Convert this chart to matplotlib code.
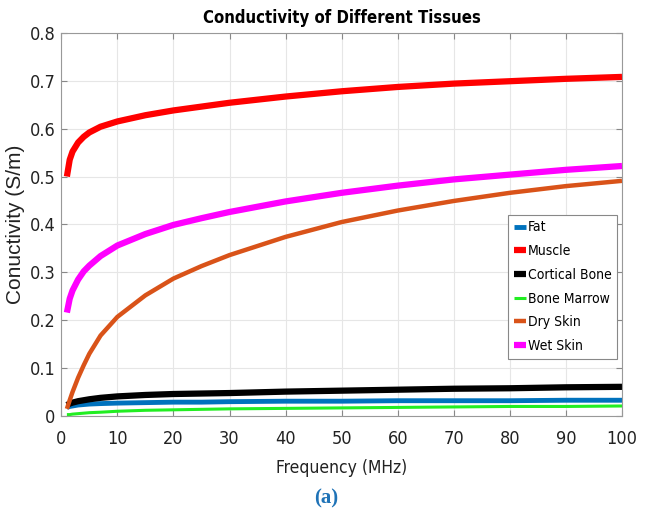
import numpy as np
import matplotlib
matplotlib.use("Agg")
import matplotlib.pyplot as plt
from matplotlib import font_manager

# frequency samples (MHz) and conductivity (S/m)
freq = [1, 1.5, 2, 3, 4, 5, 7, 10, 15, 20, 25, 30, 40, 50, 60, 70, 80, 90, 100]
fat = [0.018, 0.020, 0.021, 0.023, 0.024, 0.025, 0.026, 0.027, 0.028, 0.029,
       0.029, 0.030, 0.031, 0.031, 0.032, 0.032, 0.032, 0.033, 0.033]
muscle = [0.500, 0.535, 0.552, 0.571, 0.583, 0.592, 0.604, 0.615, 0.628, 0.638,
          0.646, 0.654, 0.667, 0.678, 0.687, 0.694, 0.699, 0.704, 0.708]
cortical = [0.023, 0.026, 0.028, 0.031, 0.033, 0.035, 0.038, 0.041, 0.044, 0.046,
            0.047, 0.048, 0.051, 0.053, 0.055, 0.057, 0.058, 0.060, 0.061]
marrow = [0.003, 0.003, 0.004, 0.005, 0.006, 0.007, 0.008, 0.010, 0.012, 0.013,
          0.014, 0.015, 0.016, 0.017, 0.018, 0.019, 0.020, 0.020, 0.021]
dry_skin = [0.015, 0.033, 0.050, 0.080, 0.106, 0.130, 0.168, 0.207, 0.252, 0.287,
            0.313, 0.336, 0.374, 0.405, 0.429, 0.449, 0.466, 0.480, 0.491]
wet_skin = [0.216, 0.245, 0.262, 0.285, 0.302, 0.314, 0.334, 0.356, 0.380, 0.399,
            0.413, 0.426, 0.448, 0.466, 0.481, 0.494, 0.504, 0.514, 0.522]

labels = ["Fat", "Muscle", "Cortical Bone", "Bone Marrow", "Dry Skin", "Wet Skin"]
series = [fat, muscle, cortical, marrow, dry_skin, wet_skin]
colors = ["#0072BD", "#FF0000", "#000000", "#22EE22", "#D95319", "#FF00FF"]
widths = [3.5, 4.5, 4.5, 2.2, 3.2, 4.5]

# narrow sans for ticks/title, like the original
narrow = font_manager.FontProperties(family="DejaVu Sans", stretch="condensed")

fig = plt.figure(figsize=(6.52, 5.13), dpi=100)
ax = fig.add_axes([0.094, 0.189, 0.860, 0.747])

for y, lab, c, lw in zip(series, labels, colors, widths):
    ax.plot(freq, y, color=c, lw=lw, label=lab, solid_capstyle="butt")

ax.set_xlim(0, 100)
ax.set_ylim(0, 0.8)
ax.set_xticks(np.arange(0, 101, 10))
ax.set_yticks(np.arange(0, 0.81, 0.1))
ax.set_yticklabels(["0", "0.1", "0.2", "0.3", "0.4", "0.5", "0.6", "0.7", "0.8"])
ax.grid(True, color="#e6e6e6", lw=0.8)
ax.set_axisbelow(True)
ax.tick_params(direction="in", length=4, color="#888888", right=True, top=True,
               labelcolor="#222222")
ax.tick_params(axis="x", pad=10)
ax.tick_params(axis="y", pad=4)
for lbl in ax.get_xticklabels() + ax.get_yticklabels():
    lbl.set_fontproperties(narrow)
    lbl.set_fontsize(13)
for s in ax.spines.values():
    s.set_color("#999999")

t = ax.set_title("Conductivity of Different Tissues", pad=7)
t.set_fontproperties(narrow)
t.set_fontweight("bold")
t.set_fontsize(12)
xl = ax.set_xlabel("Frequency (MHz)", color="#222222", labelpad=8)
xl.set_fontproperties(narrow)
xl.set_fontsize(12.5)
ax.set_ylabel("Conuctivity (S/m)", family=["Liberation Sans", "DejaVu Sans"],
              fontsize=15, color="#222222")
ax.yaxis.set_label_coords(-0.064, 0.5)

leg_font = narrow.copy()
leg_font.set_size(10)
leg = ax.legend(loc="upper left", bbox_to_anchor=(0.797, 0.525), prop=leg_font,
                handlelength=0.9, handletextpad=0.12, borderpad=0.4,
                labelspacing=0.7, borderaxespad=0, fancybox=False, framealpha=1)
leg.get_frame().set_edgecolor("#888888")
leg.get_frame().set_linewidth(0.8)

fig.text(0.5, 0.029, "(a)", ha="center", va="center", family="Liberation Serif",
         fontweight="bold", fontsize=15, color="#1f73b7")

fig.savefig("out.png", dpi=100)
